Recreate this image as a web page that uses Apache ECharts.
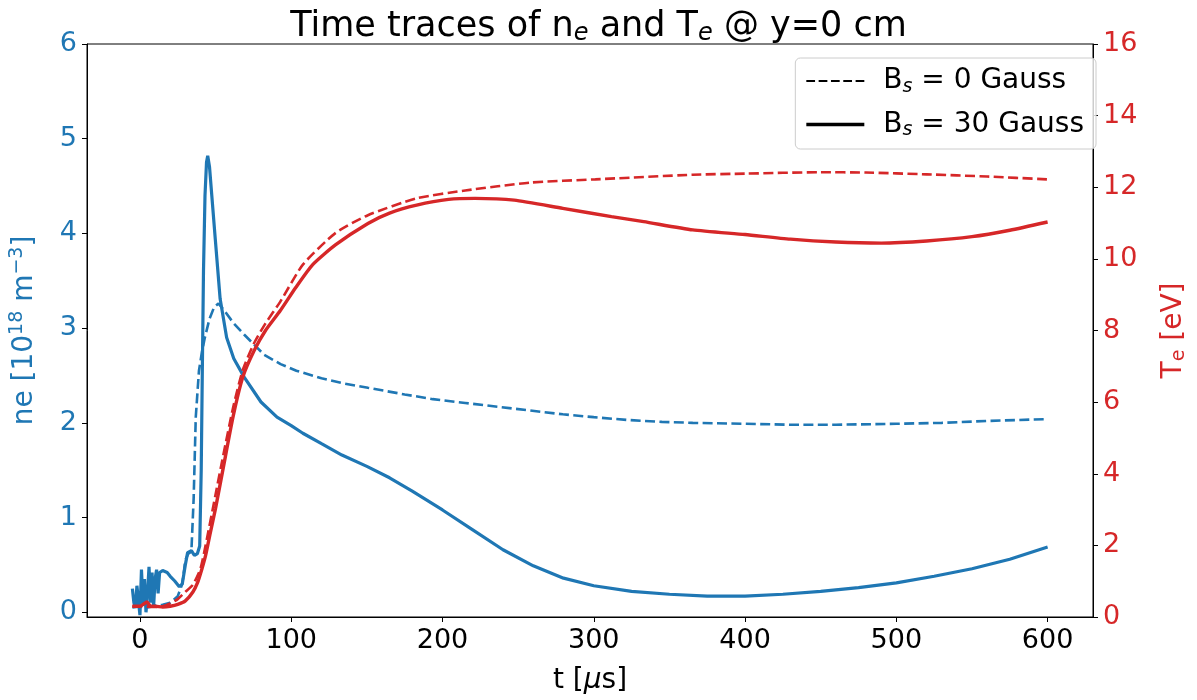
<!DOCTYPE html>
<html><head><meta charset="utf-8">
<script src="https://cdn.jsdelivr.net/npm/echarts@6/dist/echarts.min.js"></script>
<style>html,body{margin:0;padding:0;background:#fff}#c{width:1197px;height:700px}</style>
</head><body><div id="c"></div>
<script>
// x-axis ticks and axis ticks
const xTicks = [0, 100, 200, 300, 400, 500, 600];
const neTicks = [0, 1, 2, 3, 4, 5, 6];

// ne, Bs = 30 Gauss (solid blue)
const t_ne30 = [-5,-4,-3,-2,-1,0,1,2,3,4,5,6,7,8,9,10,11,12,13,15,18,20,23,26,28,30,31.5,34,36,38,39.5,40.5,41.2,42,43,44,44.8,46,47.5,49.8,53,57.3,62,69,80,90.6,100,107.7,120,133.5,150,165,180,200,220,240,260,280,300,325,350,375,400,425,450,475,500,525,550,575,600];
const ne30 = [0.25,0.1,0.05,0.28,0.3,-0.03,0.45,0.1,0.35,0.0,0.2,0.48,0.1,0.42,0.05,0.35,0.45,0.2,0.42,0.44,0.42,0.38,0.33,0.27,0.3,0.5,0.63,0.65,0.6,0.62,0.7,1.5,2.5,3.6,4.4,4.75,4.82,4.7,4.4,3.94,3.31,2.9,2.68,2.48,2.22,2.06,1.97,1.89,1.78,1.66,1.54,1.42,1.28,1.08,0.87,0.66,0.49,0.36,0.28,0.22,0.19,0.17,0.17,0.19,0.22,0.26,0.31,0.38,0.46,0.56,0.69];

// ne, Bs = 0 Gauss (dashed blue)
const t_ne0 = [-5,0,5,10,15,20,25,28,30,32,34,35.5,36.9,39,41,42.9,46,49,51.9,56,62,69,82,93,103.4,120,133.5,150.7,175,193.6,215,236.6,258,279.5,300,322.4,345,365.4,400,430,460,500,530,560,600];
const ne0 = [0.05,0.06,0.05,0.07,0.08,0.1,0.17,0.3,0.55,0.62,0.64,1.2,2.06,2.55,2.75,2.9,3.1,3.22,3.26,3.18,3.05,2.93,2.72,2.62,2.55,2.47,2.42,2.37,2.3,2.25,2.21,2.17,2.13,2.09,2.06,2.03,2.01,2.0,1.99,1.98,1.98,1.99,2.0,2.02,2.04];

// Te, Bs = 30 Gauss (solid red)
const t_te30 = [-5,0,4.7,7,10,15,20,25,30,35,38,41,43.4,46.5,49.9,55,61.6,68,75.5,83,92.7,103,114.2,129.2,150.7,165,182.9,204,221.5,247.4,279.5,311.7,333,365.4,400,430,460,490,520,550,575,600];
const te30 = [0.3,0.3,0.42,0.3,0.3,0.28,0.3,0.35,0.45,0.7,0.95,1.35,1.72,2.35,3.02,4.15,5.6,6.7,7.44,8.0,8.55,9.2,9.84,10.39,10.99,11.28,11.5,11.66,11.69,11.64,11.41,11.18,11.04,10.81,10.68,10.55,10.47,10.44,10.5,10.62,10.8,11.03];

// Te, Bs = 0 Gauss (dashed red)
const t_te0 = [-5,0,10,15,20,25,30,35,40,43.4,49.9,55,61.6,68,75.5,83,92.7,107.7,129.2,150.7,182.9,215,258,301,365.4,400,450,480,520,560,600];
const te0 = [0.3,0.3,0.28,0.3,0.38,0.5,0.7,0.9,1.35,2.0,3.4,4.5,5.85,6.9,7.65,8.2,8.8,9.84,10.72,11.22,11.69,11.91,12.13,12.22,12.35,12.38,12.42,12.41,12.36,12.3,12.22];

const zip = (a, b) => a.map((v, i) => [v, b[i]]);
const BLUE = '#1f77b4', RED = '#d62728';
const FONT = 'DejaVu Sans';
const DASH_ICON = 'path://M0,0h8v2h-8z M11.3,0h8v2h-8z M22.6,0h8v2h-8z M33.9,0h8v2h-8z M45.2,0h8v2h-8z';
const SOLID_ICON = 'path://M0,0h53.2v3h-53.2z';

const chart = echarts.init(document.getElementById('c'), null, {renderer: 'canvas'});
chart.setOption({
  animation: false,
  backgroundColor: '#fff',
  title: {
    text: 'Time traces of n{sub|e} and T{sub|e} @ y=0 cm',
    left: 'center', top: 2,
    textStyle: {
      fontFamily: FONT, fontSize: 35, fontWeight: 'normal', color: '#000',
      rich: { sub: { fontFamily: FONT, fontSize: 24, fontStyle: 'italic', color: '#000', padding: [15, 0, 0, 0] } }
    }
  },
  grid: { left: 78, right: 85, top: 44, bottom: 78, show: true, borderColor: '#000', borderWidth: 1, backgroundColor: 'transparent' },
  legend: {
    orient: 'vertical', right: 101, top: 58,
    padding: [9, 12, 9, 11],
    itemWidth: 58, itemHeight: 20, itemGap: 14,
    backgroundColor: 'rgba(255,255,255,0.8)', borderColor: '#cccccc', borderWidth: 1, borderRadius: 5,
    data: [ { name: 'Bs0', icon: DASH_ICON, itemStyle: { color: '#000' } }, { name: 'Bs30', icon: SOLID_ICON, itemStyle: { color: '#000' } } ],
    formatter: n => n === 'Bs0' ? 'B{sub|s} = 0 Gauss' : 'B{sub|s} = 30 Gauss',
    textStyle: {
      fontFamily: FONT, fontSize: 28, color: '#000', padding: [0, 0, 0, 14],
      rich: { sub: { fontFamily: FONT, fontSize: 19, fontStyle: 'italic', color: '#000', padding: [12, 0, 0, 0] } }
    }
  },
  xAxis: {
    type: 'value', min: -35, max: 630,
    name: 't [{i|μ}s]', nameLocation: 'middle', nameGap: 50,
    nameTextStyle: { fontFamily: FONT, fontSize: 28, color: '#000', rich: { i: { fontFamily: FONT, fontSize: 28, fontStyle: 'italic', color: '#000' } } },
    axisLine: { show: true, onZero: false, lineStyle: { color: '#000', width: 1 } },
    axisTick: { show: true, length: 5, inside: false, customValues: xTicks, lineStyle: { color: '#000' } },
    axisLabel: { customValues: xTicks, margin: 10, fontFamily: FONT, fontSize: 27, color: '#000' },
    splitLine: { show: false }
  },
  yAxis: [
    {
      type: 'value', min: -0.05, max: 6, position: 'left',
      name: 'ne [10{sup|18} m{sup|−3}]', nameLocation: 'middle', nameGap: 46, nameRotate: 90,
      nameTextStyle: { fontFamily: FONT, fontSize: 28, color: BLUE, rich: { sup: { fontFamily: FONT, fontSize: 19, color: BLUE, padding: [0, 0, 14, 0] } } },
      axisLine: { show: true, onZero: false, lineStyle: { color: '#000', width: 1 } },
      axisTick: { show: true, length: 5, customValues: neTicks, lineStyle: { color: '#000' } },
      axisLabel: { customValues: neTicks, margin: 10, fontFamily: FONT, fontSize: 27, color: BLUE },
      splitLine: { show: false }
    },
    {
      type: 'value', min: 0, max: 16, interval: 2, position: 'right',
      name: 'T{sub|e} [eV]', nameLocation: 'middle', nameGap: 65, nameRotate: 90,
      nameTextStyle: { fontFamily: FONT, fontSize: 28, color: RED, rich: { sub: { fontFamily: FONT, fontSize: 19, color: RED, padding: [12, 0, 0, 0] } } },
      axisLine: { show: true, onZero: false, lineStyle: { color: '#000', width: 1 } },
      axisTick: { show: true, length: 5, lineStyle: { color: '#000' } },
      axisLabel: { margin: 10, fontFamily: FONT, fontSize: 27, color: RED },
      splitLine: { show: false }
    }
  ],
  series: [
    { name: 'ne0', type: 'line', yAxisIndex: 0, data: zip(t_ne0, ne0), showSymbol: false, symbol: 'none', lineStyle: { color: BLUE, width: 2.6, type: [10, 4.4] }, z: 2 },
    { name: 'ne30', type: 'line', yAxisIndex: 0, data: zip(t_ne30, ne30), showSymbol: false, symbol: 'none', lineStyle: { color: BLUE, width: 3.2 }, z: 2 },
    { name: 'te0', type: 'line', yAxisIndex: 1, data: zip(t_te0, te0), showSymbol: false, symbol: 'none', smooth: 0.2, lineStyle: { color: RED, width: 2.6, type: [10, 4.4] }, z: 3 },
    { name: 'te30', type: 'line', yAxisIndex: 1, data: zip(t_te30, te30), showSymbol: false, symbol: 'none', smooth: 0.2, lineStyle: { color: RED, width: 3.4 }, z: 3 },
    { name: 'Bs0', type: 'line', data: [], symbol: 'none' },
    { name: 'Bs30', type: 'line', data: [], symbol: 'none' }
  ]
});
</script>
</body></html>
